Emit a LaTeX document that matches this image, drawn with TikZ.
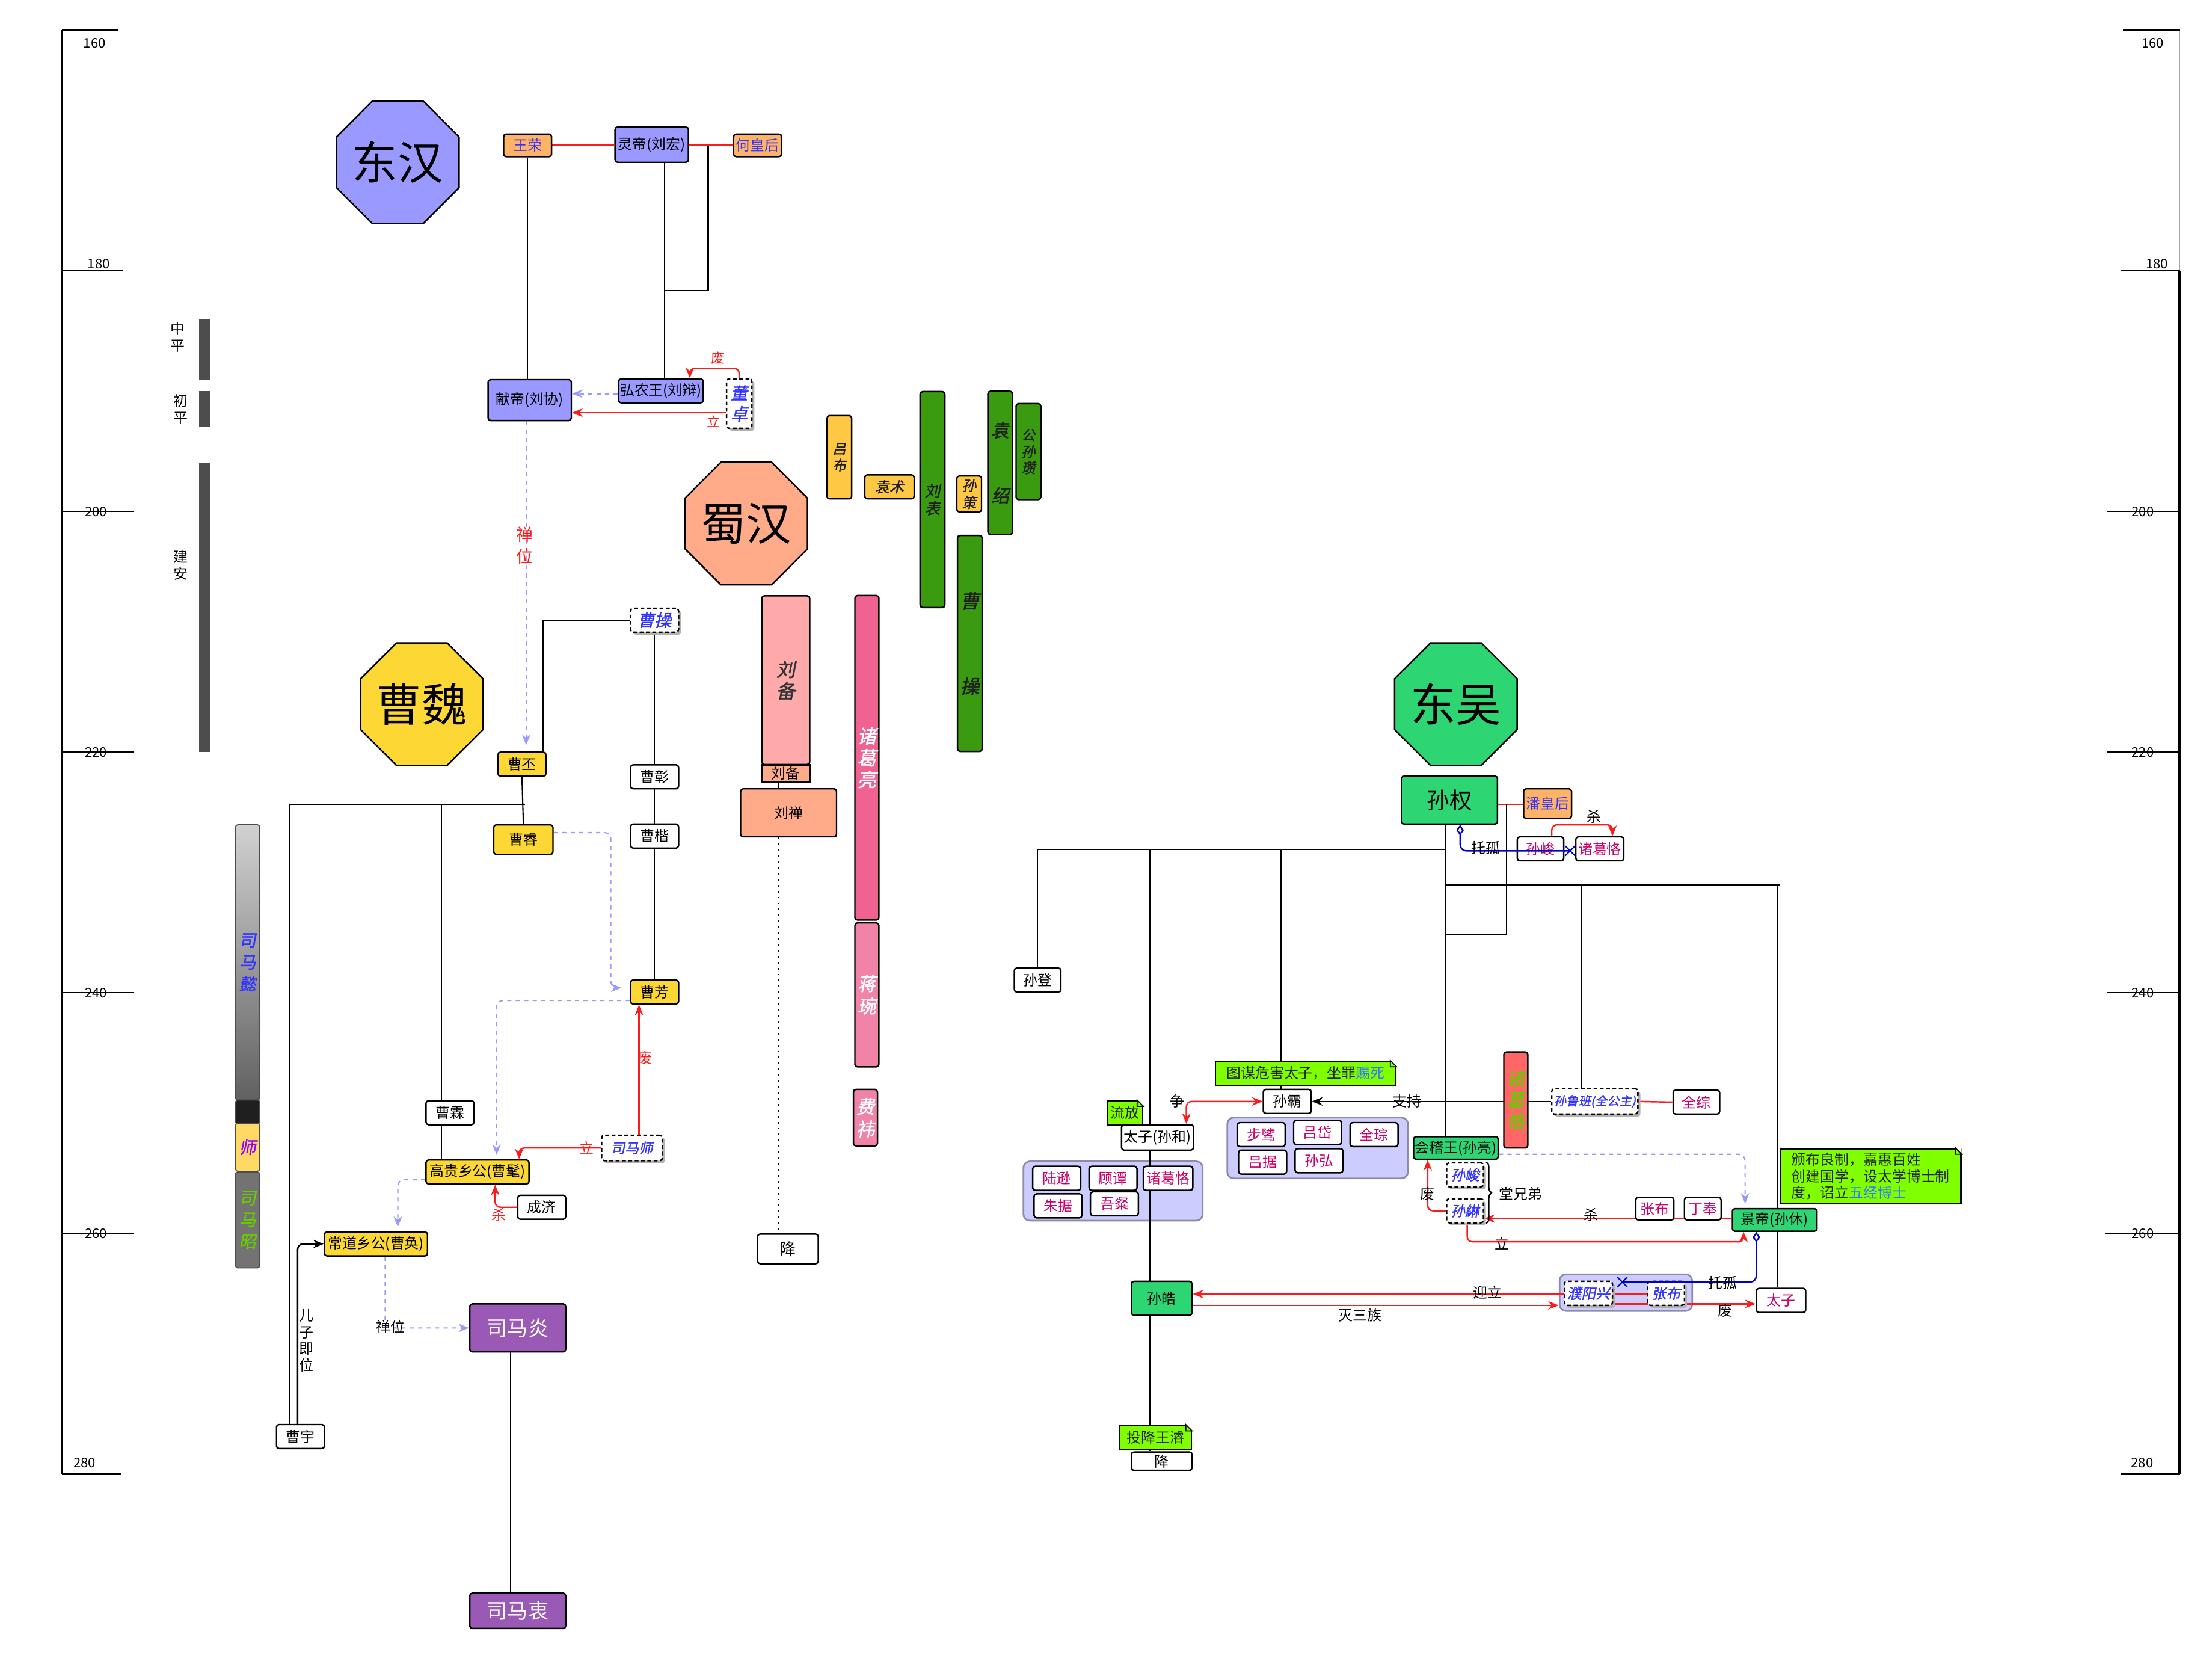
\documentclass[tikz,border=0pt]{standalone}
\usepackage{fontspec}
\setmainfont{Noto Sans CJK SC}
\newfontfamily\cjkbi[FakeSlant=0.2,FakeBold=1.5]{Noto Sans CJK SC}
\usetikzlibrary{arrows.meta,shapes.geometric,shapes.misc,shadows,decorations.pathreplacing,calc}
\definecolor{HanBlue}{HTML}{9999FF}
\definecolor{HouOrange}{HTML}{FFB366}
\definecolor{WeiYellow}{HTML}{FDD835}
\definecolor{ShuSalmon}{HTML}{FFAA88}
\definecolor{BeiPink}{HTML}{FFAAAA}
\definecolor{LiangPink}{HTML}{F06292}
\definecolor{WanPink}{HTML}{F283A8}
\definecolor{WuGreen}{HTML}{2ED573}
\definecolor{JinPurple}{HTML}{9B59B6}
\definecolor{WarYellow}{HTML}{FFC844}
\definecolor{WarGreen}{HTML}{3A9A10}
\definecolor{NoteGreen}{HTML}{80FF00}
\definecolor{GroupLilac}{HTML}{CCCCFF}
\definecolor{GroupEdge}{HTML}{8C8CA8}
\definecolor{KeRed}{HTML}{FF6666}
\definecolor{EraGray}{HTML}{4D4D4D}
\definecolor{InkBlue}{HTML}{3333FF}
\definecolor{InkMagenta}{HTML}{CC0066}
\definecolor{InkGreen}{HTML}{66CC00}
\definecolor{InkViolet}{HTML}{9900FF}
\definecolor{NoteBlue}{HTML}{3377FF}
\definecolor{LinkRed}{HTML}{FF1A1A}
\definecolor{LinkLilac}{HTML}{9999FF}
\definecolor{TuoguBlue}{HTML}{0000CC}
\definecolor{ShiYellow}{HTML}{FFD966}
\pgfdeclarelayer{groups}
\pgfdeclarelayer{links}
\pgfsetlayers{groups,links,main}
\tikzset{
  sz/.style 2 args={minimum width=#1*0.023457cm, minimum height=#2*0.023457cm},
  pbox/.style={draw, fill=white, rounded corners=1.2pt, line width=0.7pt, inner sep=0.5pt},
  hanbox/.style={pbox, fill=HanBlue},
  houbox/.style={pbox, fill=HouOrange, text=InkBlue},
  weibox/.style={pbox, fill=WeiYellow},
  shubox/.style={pbox, fill=ShuSalmon},
  wubox/.style={pbox, fill=WuGreen},
  jinbox/.style={pbox, fill=JinPurple, text=white, font=\fontsize{9.8}{11}\selectfont},
  chenbox/.style={pbox, text=InkMagenta},
  ghost/.style={pbox, dash pattern=on 1.8pt off 1.2pt, text=InkBlue,
    drop shadow={shadow xshift=1.2pt, shadow yshift=-1.2pt, fill=black!30, opacity=1},
    font=\cjkbi\fontsize{6.8}{8}\selectfont, align=center},
  barbox/.style={pbox, align=center, inner sep=0pt, font=\cjkbi\fontsize{9}{10.3}\selectfont},
  warbox/.style={barbox, text=black!88},
  erabar/.style={fill=EraGray, inner sep=0pt},
  simabar/.style={draw=black!70, line width=0.5pt, rounded corners=1pt, inner sep=0pt,
    align=center, font=\cjkbi\fontsize{8}{10.3}\selectfont},
  notebox/.style={draw, fill=NoteGreen, line width=0.7pt, inner sep=1pt, text=black!85},
  grp/.style={draw=GroupEdge, fill=GroupLilac, line width=0.8pt, rounded corners=3pt},
  oct/.style={regular polygon, regular polygon sides=8, minimum size=94*0.023457cm,
    inner sep=0pt, draw, line width=0.7pt,
    label={[font=\fontsize{21.5}{24}\selectfont, inner sep=0pt]center:#1}},
  lbl/.style={inner sep=0.5pt},
  redlbl/.style={lbl, text=LinkRed},
  eralbl/.style={lbl, align=center, font=\fontsize{6.8}{8.1}\selectfont},
  yrlbl/.style={lbl, font=\fontsize{6.3}{7}\selectfont},
  axisln/.style={line width=0.6pt},
  treeln/.style={draw, line width=0.6pt},
  redln/.style={draw=LinkRed, line width=0.7pt},
  redarr/.style={draw=LinkRed, line width=0.7pt, rounded corners=2.5pt, -{Stealth[length=5pt,width=4pt]}},
  blkarr/.style={draw, line width=0.7pt, rounded corners=2.5pt, -{Stealth[length=5pt,width=4pt]}},
  plink/.style={draw=LinkLilac, line width=0.6pt, dash pattern=on 2pt off 2pt, rounded corners=3pt,
    -{Stealth[length=5pt,width=4pt]}},
  tuogu/.style={draw=TuoguBlue, line width=0.7pt, rounded corners=3pt,
    {Diamond[open,length=5pt,width=3.6pt]}-},
  crossx/.style={cross out, draw=TuoguBlue, line width=0.6pt, minimum size=4pt, inner sep=0pt},
  kinbrace/.style={decorate, decoration={brace, amplitude=2.5pt}, line width=0.6pt},
}

\begin{document}
\begin{tikzpicture}[x=0.023457cm, y=-0.023457cm, font=\fontsize{6.8}{8}\selectfont]
\useasboundingbox (0,0) rectangle (1568,1177);

% year axes
\draw[axisln] (44,21.5) -- (44,1044.5);
\foreach \yy/\xe/\lx/\ly/\yr in {21.5/84/67/30.5/160, 192/87/70/187/180, 362.5/95/68/362.5/200,
    533/95/68/533/220, 703.5/95/68/703.5/240, 874/95/68/874/260, 1044.5/86/60/1036.5/280}{
  \draw[axisln] (44,\yy) -- (\xe,\yy);
  \node[yrlbl] (yl\yr) at (\lx,\ly) {\yr};
}
\draw[axisln, gray!70] (1545,21.5) -- (1545,192);
\draw[axisln, line width=1.3pt] (1545,192) -- (1545,1044.5);
\foreach \yy/\xs/\lx/\ly/\yr in {21.5/1505/1526/30.5/160, 192/1503/1529/187/180, 362.5/1494/1519/362.5/200,
    533/1494/1519/533/220, 703.5/1494/1519/703.5/240, 874/1492/1519/874/260, 1044.5/1503/1518.5/1036.5/280}{
  \draw[axisln] (\xs,\yy) -- (1545,\yy);
  \node[yrlbl] (yr\yr) at (\lx,\ly) {\yr};
}

% eras
\node[erabar, sz={8}{43}] (zhongping) at (145,247.5) {};
\node[eralbl] (lzhongping) at (126,239) {中\\平};
\node[erabar, sz={8}{25.5}] (chuping) at (145,290) {};
\node[eralbl] (lchuping) at (128,290) {初\\平};
\node[erabar, sz={8}{204.5}] (jianan) at (145,430.5) {};
\node[eralbl] (ljianan) at (128,400.5) {建\\安};

% Sima
\node[simabar, sz={17}{195}, top color=black!18, bottom color=black!62, text=InkBlue] (simayi) at (175.5,682) {司\\马\\懿};
\node[simabar, sz={17}{17}, fill=black!88] (simablack) at (175.5,788) {};
\node[simabar, sz={17}{34}, fill=ShiYellow, text=InkViolet] (simashibar) at (175.5,813) {师};
\node[simabar, sz={17}{68}, fill=black!55, text=InkGreen] (simazhao) at (175.5,864.5) {司\\马\\昭};

% kingdoms
\node[oct=东汉, fill=HanBlue] (handong) at (282,115) {};
\node[oct=蜀汉, fill=ShuSalmon] (shuhan) at (529,371) {};
\node[oct=曹魏, fill=WeiYellow] (caowei) at (299,499) {};
\node[oct=东吴, fill=WuGreen] (dongwu) at (1032,499) {};

% Eastern Han
\node[houbox, sz={34}{16}] (wangrong) at (374,103) {王荣};
\node[hanbox, sz={52}{25}] (lingdi) at (462,102.5) {灵帝(刘宏)};
\node[houbox, sz={34}{16}] (hehou) at (537,103) {何皇后};
\node[hanbox, sz={59}{29}] (xiandi) at (375.5,283.5) {献帝(刘协)};
\node[hanbox, sz={60}{17}] (hongnong) at (468.5,277) {弘农王(刘辩)};
\node[ghost, sz={18}{35}, font=\cjkbi\fontsize{8}{9.8}\selectfont] (dongzhuo) at (524,286) {董\\卓};
\node[redlbl, font=\fontsize{6.3}{7}\selectfont] (lfei1) at (509,253.5) {废};
\node[redlbl, font=\fontsize{6.3}{7}\selectfont] (lli1) at (506,298.5) {立};
\node[redlbl, align=center, font=\fontsize{8}{10.2}\selectfont] (lchan1) at (372,386.5) {禅\\位};

% Wei
\node[weibox, sz={34}{17}] (caopi) at (370,541.5) {曹丕};
\node[weibox, sz={42}{21}] (caorui) at (371,595) {曹睿};
\node[ghost, sz={34}{17}, font=\cjkbi\fontsize{8}{9.8}\selectfont] (caocao) at (464,439.5) {曹操};
\node[pbox, sz={34}{17}] (caozhang) at (464,550.5) {曹彰};
\node[pbox, sz={34}{17}] (caokai) at (464,592.5) {曹楷};
\node[weibox, sz={34}{17}] (caofang) at (464,703) {曹芳};
\node[pbox, sz={34}{17}] (caolin) at (319,788.5) {曹霖};
\node[weibox, sz={73}{17}] (gaogui) at (338.5,830.5) {高贵乡公(曹髦)};
\node[weibox, sz={73}{17}] (changdao) at (266.5,881.5) {常道乡公(曹奂)};
\node[pbox, sz={34}{17}] (chengji) at (384,855.5) {成济};
\node[ghost, sz={43}{18}, font=\cjkbi\fontsize{6.6}{8}\selectfont] (simashi) at (448,813.5) {司马师};
\node[pbox, sz={34}{17}] (caoyu) at (213,1018) {曹宇};
\node[jinbox, sz={68}{34}] (simayan) at (367,941) {司马炎};
\node[jinbox, sz={68}{25}] (simazhong) at (367,1141.5) {司马衷};
\node[redlbl] (lfei2) at (457,749.5) {废};
\node[redlbl] (lli2) at (416,813.5) {立};
\node[redlbl] (lsha1) at (353.5,861) {杀};
\node[lbl] (lchan2) at (277,940) {禅位};
\node[lbl, align=center, font=\fontsize{6.8}{7.9}\selectfont] (lerzi) at (217,950) {儿\\子\\即\\位};

% Shu
\node[barbox, fill=BeiPink, text=black!80, sz={34}{119.5}] (liubeibar) at (557,482) {刘\\备};
\node[shubox, sz={34}{12}, rounded corners=0pt] (liubei) at (557,548) {刘备};
\node[shubox, sz={68}{34}] (liushan) at (559,576) {刘禅};
\node[pbox, sz={43}{21}, font=\fontsize{7.7}{9}\selectfont] (xiangshu) at (558.5,885) {降};
\node[barbox, fill=LiangPink, text=white, sz={17}{230}] (zhugeliang) at (614.5,537) {诸\\葛\\亮};
\node[barbox, fill=WanPink, text=white, sz={17}{102}, font=\cjkbi\fontsize{8.7}{10.6}\selectfont] (jiangwan) at (614.5,705) {蒋\\琬};
\node[barbox, fill=WanPink, text=white, sz={17}{40}, font=\cjkbi\fontsize{8.7}{10.6}\selectfont] (feiyi) at (613.5,792) {费\\祎};

% warlords
\node[warbox, fill=WarYellow, sz={17.5}{59}, font=\cjkbi\fontsize{6.5}{7.8}\selectfont] (lvbu) at (595,324) {吕\\布};
\node[warbox, fill=WarYellow, sz={35}{17}, font=\cjkbi\fontsize{6.8}{8}\selectfont] (yuanshu) at (630.5,345) {袁术};
\node[warbox, fill=WarGreen, sz={17.5}{153}, font=\cjkbi\fontsize{7.3}{8.3}\selectfont] (liubiao) at (661,354) {刘\\表};
\node[warbox, fill=WarYellow, sz={17.5}{25.5}, font=\cjkbi\fontsize{6.7}{8}\selectfont] (sunce) at (687,350) {孙\\策};
\node[warbox, fill=WarGreen, sz={17.5}{153}] (caocaobar) at (687.5,456) {曹\\[30pt]操};
\node[warbox, fill=WarGreen, sz={17.5}{101.5}, font=\cjkbi\fontsize{8.5}{10}\selectfont] (yuanshao) at (709,328) {袁\\[21pt]绍};
\node[warbox, fill=WarGreen, sz={17.5}{68}, font=\cjkbi\fontsize{6.6}{7.8}\selectfont] (gongsun) at (729,320) {公\\孙\\瓒};

% Wu
\begin{pgfonlayer}{groups}
\node[grp, sz={127}{42}] (hedang) at (789,844) {};
\node[grp, sz={128}{43}] (badang) at (934,813.5) {};
\node[grp, sz={94}{26}] (puzhang) at (1152.5,916) {};
\end{pgfonlayer}
\node[wubox, sz={68}{34}, font=\fontsize{10.7}{12}\selectfont] (sunquan) at (1027.5,567) {孙权};
\node[houbox, sz={34}{21}] (panhou) at (1097,569.5) {潘皇后};
\node[chenbox, sz={33}{17}] (sunjun) at (1092,601.5) {孙峻};
\node[chenbox, sz={34}{17}] (zhugeke) at (1134,601.5) {诸葛恪};
\node[pbox, sz={33}{17}] (sundeng) at (735.5,694.5) {孙登};
\node[notebox, sz={128}{17}] (ntumou) at (925.5,760.5) {图谋危害太子，坐罪\textcolor{NoteBlue}{赐死}};
\node[pbox, sz={34}{17}] (sunba) at (912.5,780.5) {孙霸};
\node[notebox, sz={25}{17}] (nliufang) at (797.5,788.5) {流放};
\node[pbox, sz={51}{18}] (taizihe) at (820.5,806) {太子(孙和)};
\node[chenbox, sz={34}{17}] (luxun) at (749,835) {陆逊};
\node[chenbox, sz={34}{17}] (gutan) at (789,835) {顾谭};
\node[chenbox, sz={35}{17}] (zhugeke2) at (828,835) {诸葛恪};
\node[chenbox, sz={34}{17}] (zhuju) at (750,854.5) {朱据};
\node[chenbox, sz={34}{17}] (wucan) at (790,853) {吾粲};
\node[chenbox, sz={34}{17}] (buzhi) at (894,804) {步骘};
\node[chenbox, sz={34}{17}] (lvdai) at (934,802.5) {吕岱};
\node[chenbox, sz={34}{17}] (quancong) at (974,804) {全琮};
\node[chenbox, sz={34}{17}] (lvju) at (895,823.5) {吕据};
\node[chenbox, sz={34}{17}] (sunhong) at (935,822.5) {孙弘};
\node[barbox, fill=KeRed, text=InkGreen, sz={17}{68}, font=\cjkbi\fontsize{8.5}{10}\selectfont] (zhugekebar) at (1074.5,779.5) {诸\\葛\\恪};
\node[ghost, sz={61}{18}, font=\cjkbi\fontsize{5.8}{7}\selectfont] (sunluban) at (1130.5,780.5) {孙鲁班(全公主)};
\node[chenbox, sz={33}{17}] (quanzong) at (1202.5,781) {全综};
\node[wubox, sz={60}{16}] (kuaiji) at (1032,813.5) {会稽王(孙亮)};
\node[ghost, sz={26}{17}] (sunjun2) at (1038.5,832.5) {孙峻};
\node[ghost, sz={26}{17}] (sunchen) at (1038.5,858) {孙綝};
\node[chenbox, sz={27}{16}] (zhangbu) at (1173,856.5) {张布};
\node[chenbox, sz={26}{16}] (dingfeng) at (1207,856.5) {丁奉};
\node[wubox, sz={60}{16}] (jingdi) at (1258,864.5) {景帝(孙休)};
\node[notebox, sz={128}{39}, align=left, font=\fontsize{6.8}{7.9}\selectfont] (nbanbu) at (1326,833.5)
  {颁布良制，嘉惠百姓\\创建国学，设太学博士制\\度，诏立\textcolor{NoteBlue}{五经博士}};
\node[chenbox, sz={35}{17}] (taizi) at (1262.5,921.5) {太子};
\node[ghost, sz={34}{17}] (puyang) at (1126,916.5) {濮阳兴};
\node[ghost, sz={26}{17}] (zhangbu2) at (1181,916.5) {张布};
\node[wubox, sz={43}{24}] (sunhao) at (823.5,920) {孙皓};
\node[notebox, sz={51}{17}] (ntouxiang) at (819,1018.5) {投降王濬};
\node[pbox, sz={43}{13}] (xiangwu) at (823.5,1035.5) {降};
\node[lbl] (lsha2) at (1130,578.5) {杀};
\node[lbl] (lzheng) at (834.5,780.5) {争};
\node[lbl] (lzhichi) at (997.5,780.5) {支持};
\node[lbl] (lfei3) at (1012,846) {废};
\node[lbl] (ltang) at (1078,846) {堂兄弟};
\node[lbl] (lsha3) at (1128,861) {杀};
\node[lbl] (lli3) at (1064.5,881) {立};
\node[lbl] (lyingli) at (1054.5,916) {迎立};
\node[lbl] (lmie) at (964,932) {灭三族};
\node[lbl] (lfei4) at (1223,928.5) {废};

\foreach \n in {ntumou,nliufang,nbanbu,ntouxiang}{
  \fill[white] ([xshift=-3pt]\n.north east) -- (\n.north east) -- ([yshift=-3pt]\n.north east) -- cycle;
  \draw[line width=0.5pt] ([xshift=-3pt]\n.north east) -- ([yshift=-3pt]\n.north east)
    -- ([xshift=-3pt,yshift=-3pt]\n.north east) -- cycle;
}

\coordinate (lingj) at (471,206);
\coordinate (weij) at (372,570);
\coordinate (wuA) at (1025,602);
\coordinate (wuB) at (1025,627);
\coordinate (tg1) at (1113,603);
\coordinate (tg2) at (1150,908.5);

\begin{pgfonlayer}{links}
% Han
\draw[redln] (wangrong.east) -- (lingdi.west |- wangrong.east);
\draw[redln] (lingdi.east |- hehou.west) -- (hehou.west);
\draw[treeln] (wangrong.south) -- (wangrong.south |- xiandi.north);
\draw[treeln] (lingdi.south -| lingj) -- (lingj |- hongnong.north);
\draw[treeln] (502,0 |- hehou.west) |- (lingj);
\draw[plink] (hongnong.west |- 0,279) -- (xiandi.east |- 0,279);
\draw[redarr] (dongzhuo.west |- 0,292.5) -- (xiandi.east |- 0,292.5);
\draw[redarr] (dongzhuo.north) |- (489,261) -- (489,0 |- hongnong.north);
\draw[plink, shorten >=3pt] (373,0 |- xiandi.south) -- (373,0 |- caopi.north);
% Wei
\draw[treeln] (caocao.west) -| (385,0 |- caopi.north);
\draw[treeln] (caocao.south) -- (caozhang.north) (caozhang.south) -- (caokai.north) (caokai.south) -- (caofang.north);
\draw[treeln] (caopi.south) -- (caorui.north);
\draw[treeln] (weij) -| (205,0 |- caoyu.north);
\draw[treeln] (313,0 |- weij) -- (313,0 |- caolin.north) (313,0 |- caolin.south) -- (313,0 |- gaogui.north);
\draw[plink, shorten >=4pt] (caorui.east |- 0,590) -| (433,700) -- (caofang.west |- 0,700);
\draw[plink, shorten >=2pt] (caofang.west |- 0,709) -| (352,0 |- gaogui.north);
\draw[redarr] (453,0 |- simashi.north) -- (453,0 |- caofang.south);
\draw[redarr] (simashi.west) -| (368,0 |- gaogui.north);
\draw[redarr] (chengji.west) -| (351,0 |- gaogui.south);
\draw[plink, shorten >=2pt] (gaogui.west |- 0,836) -| (282,0 |- changdao.north);
\draw[plink] (273,0 |- changdao.south) |- (simayan.west);
\draw[blkarr] (211,0 |- caoyu.north) |- (changdao.west);
\draw[treeln] (362,0 |- simayan.south) -- (362,0 |- simazhong.north);
% Shu
\draw[treeln] (552,0 |- liubei.south) -- (552,0 |- liushan.north);
\draw[line width=0.8pt, dotted] (552,0 |- liushan.south) -- (552,0 |- xiangshu.north);
% Wu
\draw[redln] (sunquan.east |- 0,570) -- (panhou.west |- 0,570);
\draw[treeln] (1068,570) -- (1068,662) -- (1025,662);
\draw[treeln] (sunquan.south -| wuA) -- (wuA |- kuaiji.north);
\draw[treeln] (wuA) -| (sundeng.north);
\draw[treeln] (908,0 |- wuA) -- (908,0 |- sunba.north);
\draw[treeln] (815,0 |- wuA) -- (815,0 |- taizihe.north);
\draw[treeln] (815,0 |- taizihe.south) -- (815,0 |- xiangwu.north);
\draw[treeln] (wuB) -- (1262,0 |- wuB);
\draw[treeln] (1121,0 |- wuB) -- (1121,0 |- sunluban.north);
\draw[treeln] (1260,0 |- wuB) -- (1260,0 |- taizi.north);
\draw[redarr] (sunjun.north -| 1100,0) |- (1143,584.5) -- (1143,0 |- zhugeke.north);
\draw[redarr, {Stealth[length=5pt,width=4pt]}-{Stealth[length=5pt,width=4pt]}] (841,0 |- taizihe.north) |- (sunba.west);
\draw[blkarr] (sunluban.west) -- (sunba.east);
\draw[redln] (sunluban.east) -- (quanzong.west);
\draw[plink, shorten >=2pt] (kuaiji.east |- 0,818) -| (1237,0 |- jingdi.north);
\draw[redarr] (sunchen.west) -| (1012,0 |- kuaiji.south);
\draw[redarr] (jingdi.west |- 0,863.5) -- (sunchen.east |- 0,863.5);
\draw[redarr] (1040,0 |- sunchen.south) |- (1236,880) -- (1236,0 |- jingdi.south);
\draw[redarr] (zhangbu2.west |- 0,917) -- (sunhao.east |- 0,917);
\draw[redarr] (sunhao.east |- 0,925) -- (puzhang.west |- 0,925);
\draw[redarr] (puyang.east |- 0,924) -- (taizi.west |- 0,924);
\end{pgfonlayer}

\draw[tuogu] (1035,0 |- sunquan.south) |- (tg1) node[crossx] (tgx1) {};
\node[lbl] (ltuogu1) at (1053,601) {托孤};
\draw[tuogu] (1245,0 |- jingdi.south) |- (tg2) node[crossx] (tgx2) {};
\node[lbl] (ltuogu2) at (1221,909) {托孤};
\draw[kinbrace] ([xshift=1pt]sunjun2.north east) -- ([xshift=1pt]sunchen.south east);
\end{tikzpicture}
\end{document}
